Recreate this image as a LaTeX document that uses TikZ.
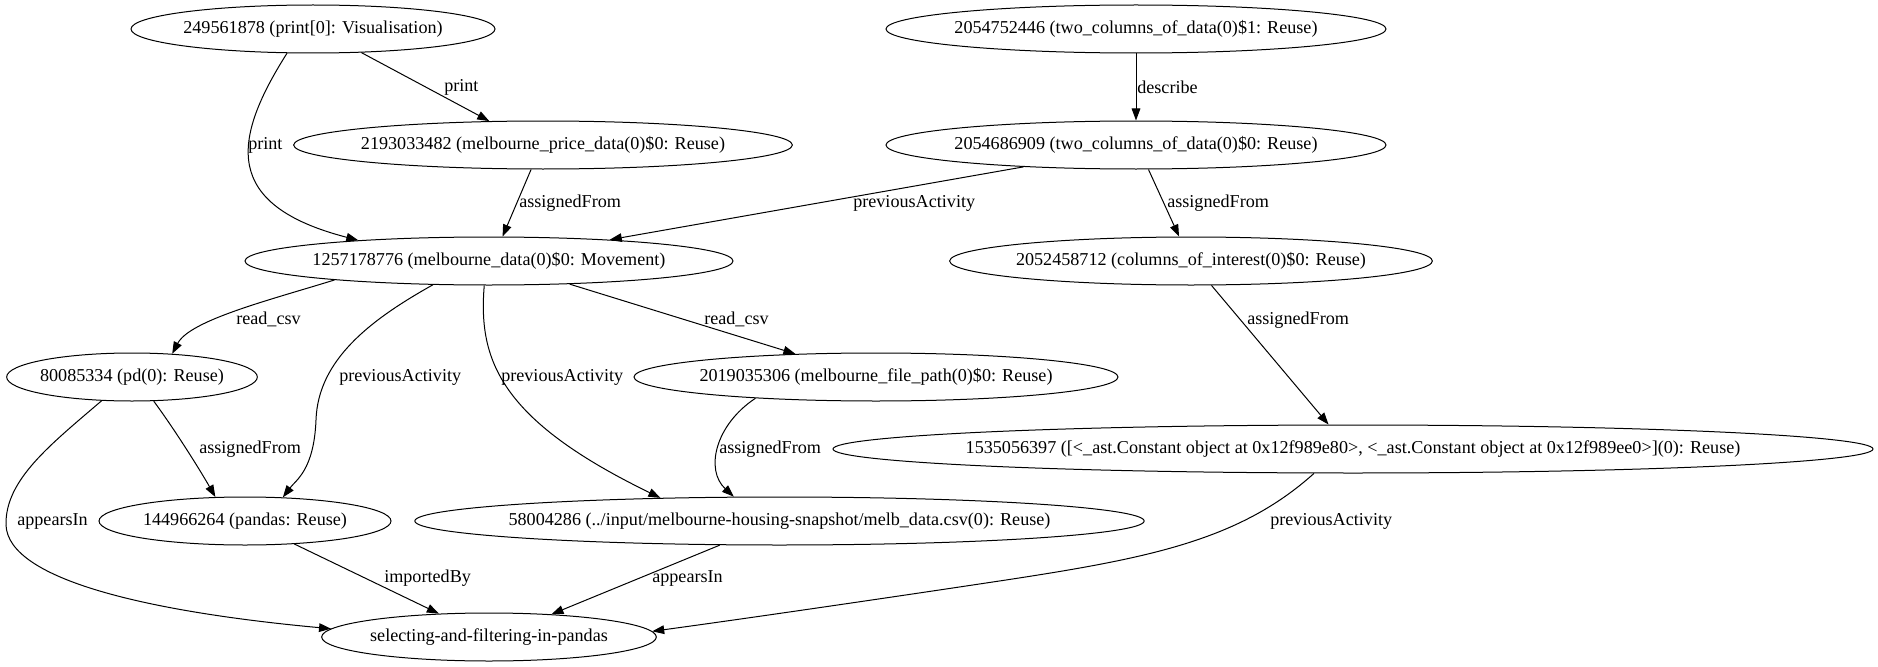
\documentclass[tikz,border=0pt]{standalone}
\usepackage{fontspec}
\setmainfont{Liberation Serif}
\usetikzlibrary{shapes.geometric,arrows.meta}
\begin{document}
\begin{tikzpicture}[x=0.75pt,y=-0.75pt,
  nd/.style={ellipse, draw, line width=0.75pt, inner sep=0pt, minimum height=36pt},
  tx/.style={inner sep=0pt, font=\fontsize{13.6}{16}\selectfont},
  ed/.style={-{Triangle[length=9pt,width=6.5pt]}, line width=0.75pt},
  lb/.style={anchor=west, inner sep=0pt, font=\fontsize{13.6}{16}\selectfont}]
\useasboundingbox (0,0) rectangle (1878,667);
% nodes (ellipses, then their texts)
\node[nd, minimum width=273pt] (a1) at (313,29) {};
\node[nd, minimum width=374pt] (a2) at (543,145) {};
\node[nd, minimum width=366pt] (a3) at (489,261) {};
\node[nd, minimum width=375pt] (a4) at (1136,29) {};
\node[nd, minimum width=375pt] (a5) at (1136,145) {};
\node[nd, minimum width=362pt] (a6) at (1191,261) {};
\node[nd, minimum width=188pt] (a7) at (132,377) {};
\node[nd, minimum width=219pt] (a8) at (245,521) {};
\node[nd, minimum width=363pt] (a9) at (876,377) {};
\node[nd, minimum width=547pt] (a10) at (779.5,521) {};
\node[nd, minimum width=780pt] (a11) at (1353,449) {};
\node[nd, minimum width=251pt] (a12) at (489,637) {};
\node[tx] (t1) at (a1) {249561878 (print[0]: Visualisation)};
\node[tx] (t2) at (a2) {2193033482 (melbourne\_price\_data(0)\$0: Reuse)};
\node[tx] (t3) at (a3) {1257178776 (melbourne\_data(0)\$0: Movement)};
\node[tx] (t4) at (a4) {2054752446 (two\_columns\_of\_data(0)\$1: Reuse)};
\node[tx] (t5) at (a5) {2054686909 (two\_columns\_of\_data(0)\$0: Reuse)};
\node[tx] (t6) at (a6) {2052458712 (columns\_of\_interest(0)\$0: Reuse)};
\node[tx] (t7) at (a7) {80085334 (pd(0): Reuse)};
\node[tx] (t8) at (a8) {144966264 (pandas: Reuse)};
\node[tx] (t9) at (a9) {2019035306 (melbourne\_file\_path(0)\$0: Reuse)};
\node[tx] (t10) at (a10) {58004286 (../input/melbourne-housing-snapshot/melb\_data.csv(0): Reuse)};
\node[tx] (t11) at (a11) {1535056397 ([<\_ast.Constant object at 0x12f989e80>, <\_ast.Constant object at 0x12f989ee0>](0): Reuse)};
\node[tx] (t12) at (a12) {selecting-and-filtering-in-pandas};
% edges
\draw[ed] (a1.-26.3) -- (a2.156.1);
\draw[ed] (a1.-137.6) .. controls (232,140) and (222,205) .. (a3.171.6);
\draw[ed] (a2.-116.6) -- (a3.61.6);
\draw[ed] (a5.-169.8) -- (a3.10);
\draw[ed] (a4) -- (a5);
\draw[ed] (a5.-63.4) -- (a6.116.6);
\draw[ed] (a6.-50) -- (a11.135);
\draw[ed] (a3.-173.2) .. controls (270,300) and (190,320) .. (a7.30.3);
\draw[ed] (a3.-157.8) .. controls (370,320) and (318,360) .. (316,420) .. controls (314,470) and (296,480) .. (a8.32.1);
\draw[ed] (a3.-101.8) .. controls (478,360) and (500,420) .. (a10.169.9);
\draw[ed] (a3.-16.9) -- (a9.164);
\draw[ed] (a7.-48.5) .. controls (175,430) and (200,470) .. (a8.141);
\draw[ed] (a7.-142.2) .. controls (50,445) and (5,480) .. (6,525) .. controls (8,580) and (150,612) .. (a12.177.4);
\draw[ed] (a8.-25.8) -- (a12.155.9);
\draw[ed] (a9.-170.9) .. controls (715,425) and (705,470) .. (a10.152.4);
\draw[ed] (a10.-158.6) -- (a12.20.5);
\draw[ed] (a11.-148.5) .. controls (1240,540) and (1150,558) .. (1006,580) .. controls (900,596) and (750,618) .. (a12.2.8);
% labels
\node[lb] (l1) at (444,87) {print};
\node[lb] (l2) at (248,145) {print};
\node[lb] (l3) at (519,203) {assignedFrom};
\node[lb] (l4) at (853,203) {previousActivity};
\node[lb] (l5) at (1137,87) {describe};
\node[lb] (l6) at (1167,203) {assignedFrom};
\node[lb] (l7) at (1247,320) {assignedFrom};
\node[lb] (l8) at (236,319) {read\_csv};
\node[lb] (l9) at (339,377) {previousActivity};
\node[lb] (l10) at (501,377) {previousActivity};
\node[lb] (l11) at (704,319) {read\_csv};
\node[lb] (l12) at (199,449) {assignedFrom};
\node[lb] (l13) at (17,521) {appearsIn};
\node[lb] (l14) at (384,578) {importedBy};
\node[lb] (l15) at (719,449) {assignedFrom};
\node[lb] (l16) at (652,578) {appearsIn};
\node[lb] (l17) at (1270,521) {previousActivity};
\end{tikzpicture}
\end{document}
